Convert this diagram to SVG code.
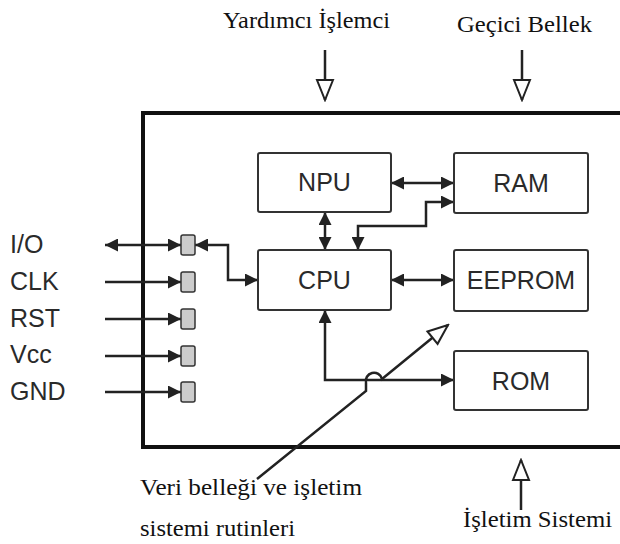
<svg xmlns="http://www.w3.org/2000/svg" width="620" height="544" viewBox="0 0 620 544">
<style>
.box{fill:#fff;stroke:#333;stroke-width:2}
.pin{fill:#ccc;stroke:#333;stroke-width:1.5}
.lbl{font-family:"Liberation Sans",Arial,sans-serif;font-size:25px;fill:#2a2a2a}
.cap{font-family:"Liberation Serif","Times New Roman",serif;font-size:23px;fill:#111}
.capb{font-family:"Liberation Serif","Times New Roman",serif;font-size:24px;fill:#111}
.ln{fill:none;stroke:#222;stroke-width:2.5}
.ar{marker-end:url(#fa)}
.ar2{marker-start:url(#fa);marker-end:url(#fa)}
.ho{fill:none;stroke:#222;stroke-width:2.5;marker-end:url(#ha)}
</style>
<defs>
<marker id="fa" markerUnits="userSpaceOnUse" viewBox="0 0 13 13" refX="13" refY="6.5" markerWidth="13" markerHeight="13" orient="auto-start-reverse">
<path d="M0,0 L13,6.5 L0,13 z" fill="#222"/>
</marker>
<marker id="ha" markerUnits="userSpaceOnUse" viewBox="0 0 24 20" refX="22" refY="10" markerWidth="24" markerHeight="20" orient="auto">
<path d="M2,2 L22,10 L2,18 z" fill="#fff" stroke="#222" stroke-width="2"/>
</marker>
</defs>
<rect width="620" height="544" fill="#fff"/>

<g id="outer">
<path d="M620,113 H143 V447 H620" fill="none" stroke="#111" stroke-width="4"/>
</g>

<g id="connectors">
<path class="ln ar2" d="M105,245 H181"/>
<path class="ln ar" d="M105,282 H181"/>
<path class="ln ar" d="M105,319 H181"/>
<path class="ln ar" d="M105,356 H181"/>
<path class="ln ar" d="M105,392 H181"/>
<path class="ln ar2" d="M195,245 H228 V280 H258"/>
<path class="ln ar2" d="M391,183 H454"/>
<path class="ln ar2" d="M454,202 H426 V226 H358 V250"/>
<path class="ln ar2" d="M325,212 V250"/>
<path class="ln ar2" d="M391,280 H454"/>
<path class="ln ar2" d="M325,310 V380 H454"/>
<path class="ho" d="M257,479 L366,391 V383 A8,8 0 0 1 382,379 L448,325"/>
<path class="ho" d="M325,50 V100"/>
<path class="ho" d="M522,50 V100"/>
<path class="ho" d="M521,510 V460"/>
</g>

<g id="pins">
<rect class="pin" x="181" y="235" width="14" height="20" rx="2"/>
<rect class="pin" x="181" y="272" width="14" height="20" rx="2"/>
<rect class="pin" x="181" y="309" width="14" height="20" rx="2"/>
<rect class="pin" x="181" y="346" width="14" height="20" rx="2"/>
<rect class="pin" x="181" y="382" width="14" height="20" rx="2"/>
</g>

<g id="npu"><rect class="box" x="258" y="153" width="133" height="59" rx="2"/><text class="lbl" x="324.5" y="191" text-anchor="middle">NPU</text></g>
<g id="cpu"><rect class="box" x="258" y="250" width="133" height="60" rx="2"/><text class="lbl" x="324.5" y="289" text-anchor="middle">CPU</text></g>
<g id="ram"><rect class="box" x="454" y="153" width="134" height="60" rx="2"/><text class="lbl" x="521" y="192" text-anchor="middle">RAM</text></g>
<g id="eeprom"><rect class="box" x="454" y="250" width="134" height="61" rx="2"/><text class="lbl" x="521" y="289" text-anchor="middle">EEPROM</text></g>
<g id="rom"><rect class="box" x="454" y="351" width="134" height="59" rx="2"/><text class="lbl" x="521" y="390" text-anchor="middle">ROM</text></g>

<g id="pin-labels">
<text class="lbl" x="10" y="253">I/O</text>
<text class="lbl" x="10" y="290">CLK</text>
<text class="lbl" x="10" y="327">RST</text>
<text class="lbl" x="10" y="363">Vcc</text>
<text class="lbl" x="10" y="400">GND</text>
</g>

<g id="captions">
<text class="cap" x="223" y="28" textLength="167" lengthAdjust="spacingAndGlyphs">Yardımcı İşlemci</text>
<text class="cap" x="457" y="32" textLength="135" lengthAdjust="spacingAndGlyphs">Geçici Bellek</text>
<text class="capb" x="140" y="495" textLength="222" lengthAdjust="spacingAndGlyphs">Veri belleği ve işletim</text>
<text class="capb" x="140" y="536" textLength="155" lengthAdjust="spacingAndGlyphs">sistemi rutinleri</text>
<text class="capb" x="463" y="527" textLength="149" lengthAdjust="spacingAndGlyphs">İşletim Sistemi</text>
</g>
</svg>
